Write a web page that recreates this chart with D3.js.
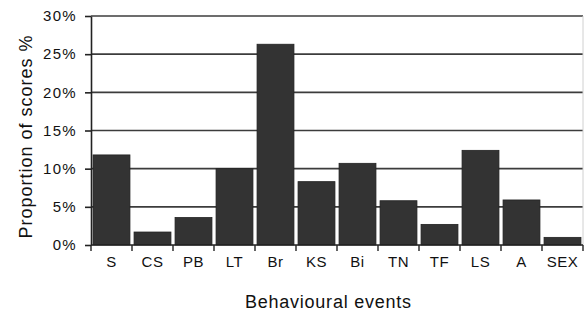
<!DOCTYPE html>
<html><head><meta charset="utf-8">
<script src="https://cdn.jsdelivr.net/npm/d3@7"></script>
<style>
html,body{margin:0;padding:0;background:#fff;}
text{font-family:"Liberation Sans",Arial,sans-serif;fill:#111;}
</style></head>
<body>
<svg id="c" width="584" height="325"></svg>
<script>
const categories = ["S","CS","PB","LT","Br","KS","Bi","TN","TF","LS","A","SEX"];
const values = [11.8, 1.7, 3.6, 10.0, 26.3, 8.3, 10.7, 5.8, 2.7, 12.4, 5.9, 1.0];
const yTicks = [0, 5, 10, 15, 20, 25, 30];
const xTitle = "Behavioural events";
const yTitle = "Proportion of scores %";

(function () {
const svg = d3.select("#c");
const pL = 91, pR = 583, pT = 16, pB = 245;

const x = d3.scaleBand().domain(categories).range([pL, pR]).paddingInner(0.1).paddingOuter(0.05);
const y = d3.scaleLinear().domain([0, 30]).range([pB, pT]);

// gridlines
svg.append("g").selectAll("line").data(yTicks.filter(d => d > 0)).join("line")
  .attr("x1", pL).attr("x2", pR)
  .attr("y1", d => y(d)).attr("y2", d => y(d))
  .attr("stroke", "#3c3c3c").attr("stroke-width", 1.6);

// right border faint
svg.append("line").attr("x1", pR).attr("x2", pR).attr("y1", pT).attr("y2", pB)
  .attr("stroke", "#d0d0d0").attr("stroke-width", 1);

// bars
svg.append("g").selectAll("rect").data(categories).join("rect")
  .attr("x", (d) => x(d))
  .attr("width", x.bandwidth())
  .attr("y", (d, i) => y(values[i]))
  .attr("height", (d, i) => pB - y(values[i]))
  .attr("fill", "#333333").attr("stroke", "#222").attr("stroke-width", 0.8);

// y axis
const yAxis = d3.axisLeft(y).tickValues(yTicks).tickFormat(d => d + "%").tickSize(6).tickSizeOuter(0).tickPadding(8);
const gy = svg.append("g").attr("transform", `translate(${pL},0)`).call(yAxis);
gy.select(".domain").attr("stroke", "#222").attr("stroke-width", 1.6);
gy.selectAll(".tick line").attr("stroke", "#222").attr("stroke-width", 1.6);
gy.selectAll(".tick text").attr("font-size", 15).attr("letter-spacing", "1.3px")
  .attr("font-family", "Liberation Sans, Arial, sans-serif").attr("fill", "#111");

// x axis with ticks at band boundaries
const gx = svg.append("g").attr("transform", `translate(0,${pB})`);
gx.append("line").attr("x1", pL).attr("x2", pR).attr("stroke", "#222").attr("stroke-width", 1.6);
const bounds = d3.range(categories.length + 1).map(i => pL + i * (pR - pL) / categories.length);
gx.selectAll("line.t").data(bounds).join("line").attr("class", "t")
  .attr("x1", d => d).attr("x2", d => d).attr("y1", 0).attr("y2", 6)
  .attr("stroke", "#222").attr("stroke-width", 1.4);
gx.selectAll("text").data(categories).join("text")
  .attr("x", d => x(d) + x.bandwidth() / 2)
  .attr("y", 22)
  .attr("text-anchor", "middle")
  .attr("font-size", 15).attr("letter-spacing", "0.5px")
  .text(d => d);

// titles
svg.append("text").attr("x", 328).attr("y", 308).attr("text-anchor", "middle")
  .attr("font-size", 18).attr("textLength", 166).attr("lengthAdjust", "spacing").text(xTitle);
svg.append("text").attr("transform", "translate(32,137) rotate(-90)").attr("text-anchor", "middle")
  .attr("font-size", 18).attr("textLength", 203).attr("lengthAdjust", "spacing").text(yTitle);
})();
</script>
</body></html>
